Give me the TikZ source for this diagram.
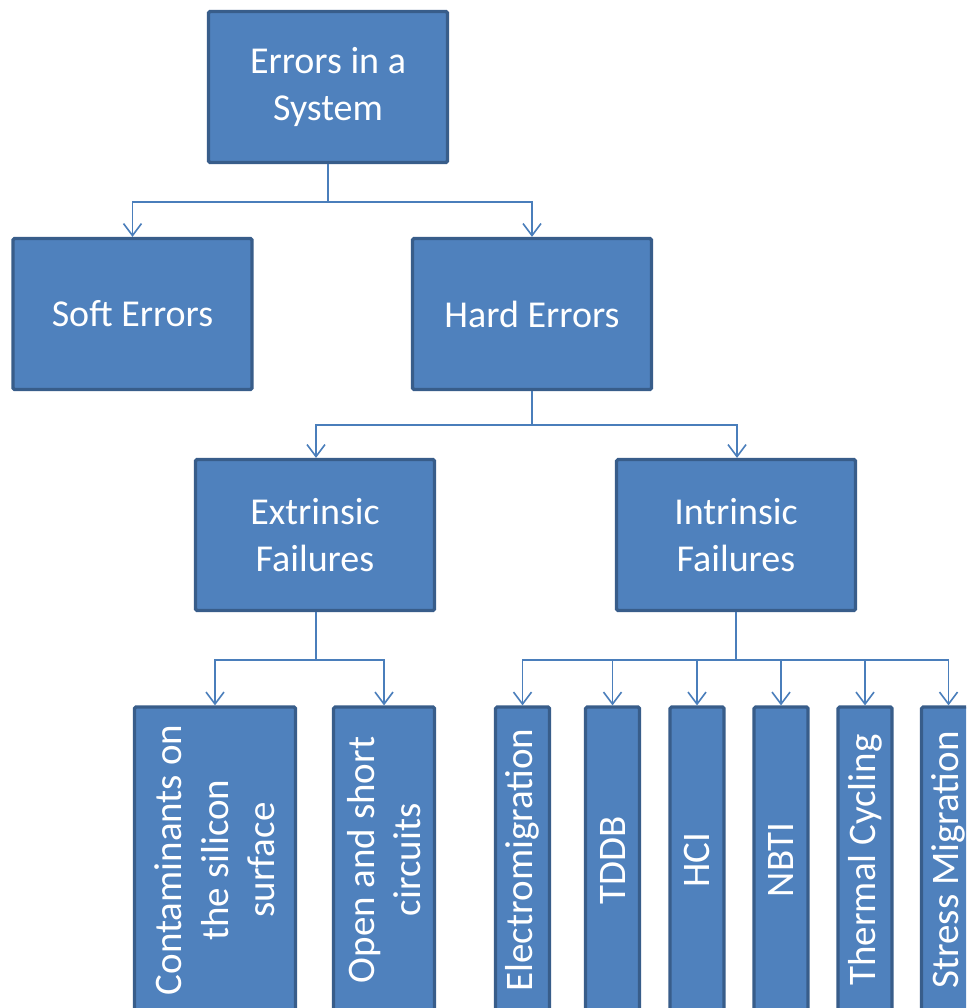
\documentclass[tikz,border=0pt]{standalone}
\usepackage{fontspec}
\setmainfont{Carlito}
\usetikzlibrary{arrows.meta}
\definecolor{boxfill}{RGB}{79,129,189}
\definecolor{boxedge}{RGB}{56,93,138}
\definecolor{linkcol}{RGB}{74,126,187}
\tikzset{
  box/.style={draw=boxedge, fill=boxfill, line width=3.2pt, rounded corners=1.5pt,
    text=white, align=center, inner sep=0pt,
    font=\fontsize{38}{46.5}\selectfont},
  widebox/.style={box, minimum width=239pt, minimum height=151pt},
  tallbox/.style={box, rotate=90, minimum width=306pt,
    font=\fontsize{39}{46.5}\selectfont},
  link/.style={draw=linkcol, line width=1.6pt},
  arrowlink/.style={link, -{Straight Barb[length=12pt,width=18pt,line width=1.6pt]}}
}
\begin{document}
\begin{tikzpicture}[x=1pt,y=-1pt]
  \useasboundingbox (0,0) rectangle (966,1008);
  \fill[white] (0,0) rectangle (966,1008);
  \clip (0,0) rectangle (966,1008);

  % upper levels
  \node[widebox] (sys)   at (328,87)  {Errors in a\\System};
  \node[widebox] (soft)  at (132.5,314) {Soft Errors};
  \node[widebox] (hard)  at (532,314) {Hard Errors};
  \node[widebox] (extr)  at (315,535) {Extrinsic\\Failures};
  \node[widebox] (intr)  at (736,535) {Intrinsic\\Failures};

  % vertical leaves
  \node[tallbox, minimum height=161pt] (cont) at (215,860) {Contaminants on\\the silicon\\surface};
  \node[tallbox, minimum height=101pt] (open) at (384,860) {Open and short\\circuits};
  \node[tallbox, minimum height=54pt] (em)    at (522.5,860) {Electromigration};
  \node[tallbox, minimum height=54pt] (tddb)  at (612.5,860) {TDDB};
  \node[tallbox, minimum height=54pt] (hci)   at (697,860)   {HCI};
  \node[tallbox, minimum height=54pt] (nbti)  at (781,860)   {NBTI};
  \node[tallbox, minimum height=54pt] (therm) at (865,860)   {Thermal Cycling};
  \node[tallbox, minimum height=54pt] (stress) at (948.5,860) {Stress Migration};

  % junction points of the tree
  \coordinate (j1) at (328,202);
  \coordinate (j2) at (532,425);
  \coordinate (j3) at (316,660);
  \coordinate (j4) at (736,660);

  % connectors
  \draw[link] (sys.south) -- (j1);
  \draw[arrowlink] (j1) -| (soft.north);
  \draw[arrowlink] (j1) -| (hard.north);

  \draw[link] (hard.south) -- (j2);
  \draw[arrowlink] (j2) -| ([xshift=1pt]extr.north);
  \draw[arrowlink] (j2) -| ([xshift=1pt]intr.north);

  \draw[link] ([xshift=1pt]extr.south) -- (j3);
  \draw[arrowlink] (j3) -| (cont.east);
  \draw[arrowlink] (j3) -| (open.east);

  \draw[link] (intr.south) -- (j4);
  \foreach \n in {em,tddb,hci,nbti,therm,stress}
    \draw[arrowlink] (j4) -| (\n.east);
\end{tikzpicture}
\end{document}
